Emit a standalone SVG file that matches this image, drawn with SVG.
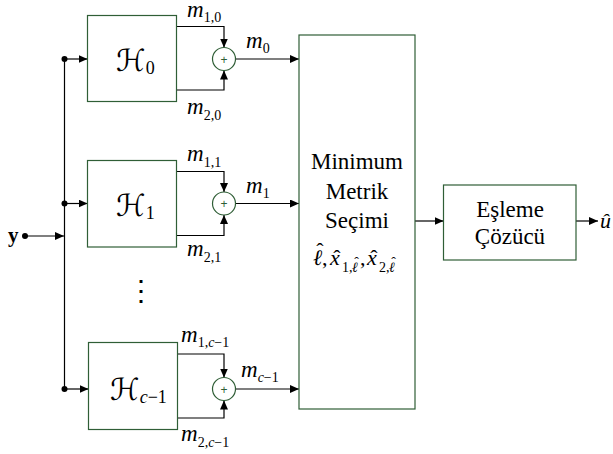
<svg xmlns="http://www.w3.org/2000/svg" width="613" height="454" viewBox="0 0 613 454">
<style>
.box{fill:#fff;stroke:#2f5e36;stroke-width:1.2}
.sum{fill:#fff;stroke:#2f5e36;stroke-width:1.2}
.ln{fill:none;stroke:#000;stroke-width:1.2}
text{font-family:"Liberation Serif","Times New Roman",serif;fill:#000}
.m{font-style:italic;font-size:23px}
.s{font-style:normal;font-size:14px}
.si{font-style:italic;font-size:14px}
.big{font-size:23px;text-anchor:middle}
.it{font-style:italic;font-size:22px}
.hat{font-size:22px;text-anchor:middle}
.hats{font-size:14px;text-anchor:middle}
.plus{font-family:"Liberation Sans",Arial,sans-serif;font-size:12px;fill:#2f5e36;text-anchor:middle}
.H{font-family:"DejaVu Serif","DejaVu Sans",serif;font-style:italic;font-size:30px}
.Hs{font-family:"Liberation Serif",serif;font-size:18px}
</style>
<defs>
<marker id="ah" markerWidth="10" markerHeight="8" refX="9" refY="4" orient="auto" markerUnits="userSpaceOnUse">
<path d="M0,0 L9,4 L0,8 Z" fill="#000"/>
</marker>
</defs>

<g id="connectors">
<line class="ln" x1="64.5" y1="59" x2="64.5" y2="389"/>
<line class="ln" x1="25" y1="236" x2="64" y2="236" marker-end="url(#ah)"/>
<circle cx="25" cy="236" r="3" fill="#000"/>
<circle cx="64.5" cy="59" r="3" fill="#000"/>
<circle cx="64.5" cy="203.5" r="3" fill="#000"/>
<circle cx="64.5" cy="389" r="3" fill="#000"/>
<line class="ln" x1="64.5" y1="59" x2="87.5" y2="59" marker-end="url(#ah)"/>
<line class="ln" x1="64.5" y1="203.5" x2="87.5" y2="203.5" marker-end="url(#ah)"/>
<line class="ln" x1="64.5" y1="389" x2="88.5" y2="389" marker-end="url(#ah)"/>
<polyline class="ln" points="176.5,26.5 224,26.5 224,47.5" marker-end="url(#ah)"/>
<polyline class="ln" points="176.5,90 224,90 224,70.5" marker-end="url(#ah)"/>
<line class="ln" x1="235.5" y1="59" x2="299" y2="59" marker-end="url(#ah)"/>
<polyline class="ln" points="176.5,171.5 224,171.5 224,192" marker-end="url(#ah)"/>
<polyline class="ln" points="176.5,235.5 224,235.5 224,215" marker-end="url(#ah)"/>
<line class="ln" x1="235.5" y1="203.5" x2="299" y2="203.5" marker-end="url(#ah)"/>
<polyline class="ln" points="177.5,354 224,354 224,377.5" marker-end="url(#ah)"/>
<polyline class="ln" points="177.5,418 224,418 224,400.5" marker-end="url(#ah)"/>
<line class="ln" x1="235.5" y1="389" x2="299" y2="389" marker-end="url(#ah)"/>
<line class="ln" x1="415" y1="221" x2="443.5" y2="221" marker-end="url(#ah)"/>
<line class="ln" x1="576" y1="221" x2="598" y2="221" marker-end="url(#ah)"/>
</g>

<g id="input-y">
<text x="8" y="242" font-size="21" font-weight="bold">y</text>
</g>

<g id="H0">
<rect class="box" x="87.5" y="15.5" width="89" height="86"/>
<text class="H" x="116" y="71">ℋ<tspan class="Hs" font-style="normal" dy="3">0</tspan></text>
</g>
<g id="H1">
<rect class="box" x="87.5" y="160.5" width="89" height="86.5"/>
<text class="H" x="116" y="216">ℋ<tspan class="Hs" font-style="normal" dy="3">1</tspan></text>
</g>
<g id="Hc1">
<rect class="box" x="88.5" y="342.5" width="89" height="87"/>
<text class="H" x="110" y="400">ℋ<tspan class="Hs" font-style="italic" dy="3">c</tspan><tspan class="Hs" font-style="normal">−1</tspan></text>
</g>

<g id="sum0">
<circle class="sum" cx="224" cy="59" r="11.5"/>
<text class="plus" x="224" y="63.5">+</text>
</g>
<g id="sum1">
<circle class="sum" cx="224" cy="203.5" r="11.5"/>
<text class="plus" x="224" y="208">+</text>
</g>
<g id="sumc1">
<circle class="sum" cx="224" cy="389" r="11.5"/>
<text class="plus" x="224" y="393.5">+</text>
</g>

<g id="labels">
<text class="m" x="187" y="17">m<tspan class="s" dy="5">1,0</tspan></text>
<text class="m" x="187" y="114">m<tspan class="s" dy="6">2,0</tspan></text>
<text class="m" x="246" y="48">m<tspan class="s" dy="5">0</tspan></text>
<text class="m" x="187" y="161">m<tspan class="s" dy="6">1,1</tspan></text>
<text class="m" x="187" y="256">m<tspan class="s" dy="6">2,1</tspan></text>
<text class="m" x="246" y="193">m<tspan class="s" dy="5">1</tspan></text>
<text class="m" x="181" y="342">m<tspan class="s" dy="5">1,</tspan><tspan class="si">c</tspan><tspan class="s">−1</tspan></text>
<text class="m" x="181" y="441">m<tspan class="s" dy="6">2,</tspan><tspan class="si">c</tspan><tspan class="s">−1</tspan></text>
<text class="m" x="241" y="377">m<tspan class="si" dy="5">c</tspan><tspan class="s">−1</tspan></text>
<text x="127" y="300" font-size="28">⋮</text>
</g>

<g id="minimum">
<rect class="box" x="299" y="35" width="116" height="374"/>
<text class="big" x="357" y="169">Minimum</text>
<text class="big" x="357" y="199">Metrik</text>
<text class="big" x="357" y="228">Seçimi</text>
<text class="it" x="313" y="265">ℓ</text>
<text class="hat" x="320" y="258">ˆ</text>
<text x="322" y="265" font-size="22">,</text>
<text class="it" x="330" y="265">x</text>
<text class="hat" x="337" y="265">ˆ</text>
<text class="s" x="342" y="272">1,</text>
<text class="si" x="352" y="272">ℓ</text>
<text class="hats" x="356.5" y="267">ˆ</text>
<text x="360" y="265" font-size="22">,</text>
<text class="it" x="367" y="265">x</text>
<text class="hat" x="374" y="265">ˆ</text>
<text class="s" x="379" y="272">2,</text>
<text class="si" x="389" y="272">ℓ</text>
<text class="hats" x="393.5" y="267">ˆ</text>
</g>

<g id="esleme">
<rect class="box" x="443.5" y="185" width="132.5" height="75"/>
<text class="big" x="510" y="217">Eşleme</text>
<text class="big" x="510" y="244">Çözücü</text>
</g>

<g id="output">
<text class="it" x="600" y="228">û</text>
</g>
</svg>
